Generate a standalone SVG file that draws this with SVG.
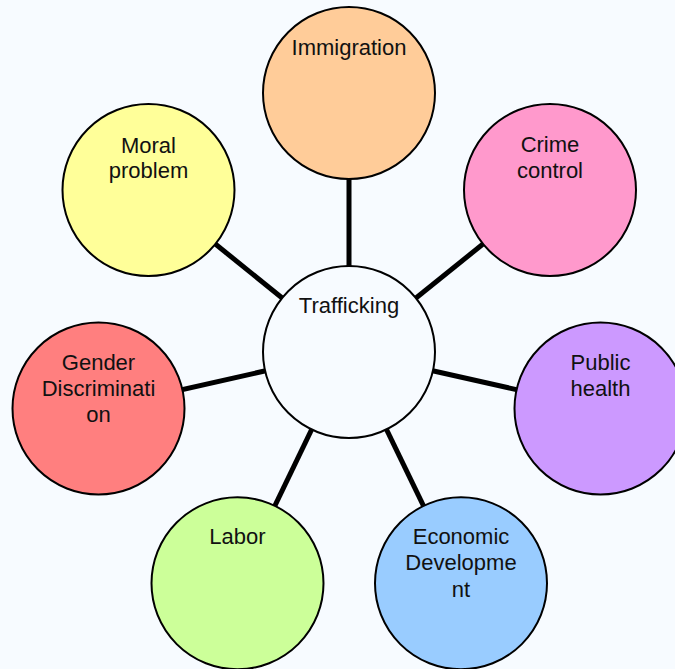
<svg xmlns="http://www.w3.org/2000/svg" width="675" height="669" viewBox="0 0 675 669">
  <style>
    .bubble { stroke: #000; stroke-width: 2; }
    .link { stroke: #000; stroke-width: 5; }
    .label { font-family: "Liberation Sans", Arial, sans-serif; font-size: 22px; fill: #111; text-anchor: middle; }
  </style>
  <rect width="675" height="669" fill="#f7fbff"/>

  <!-- spokes from the hub to each topic -->
  <g id="connectors">
    <line class="link" x1="349" y1="352" x2="349" y2="93"/>
    <line class="link" x1="349" y1="352" x2="550" y2="190"/>
    <line class="link" x1="349" y1="352" x2="600.5" y2="408.5"/>
    <line class="link" x1="349" y1="352" x2="461" y2="583.3"/>
    <line class="link" x1="349" y1="352" x2="237.5" y2="583.3"/>
    <line class="link" x1="349" y1="352" x2="98.5" y2="408.5"/>
    <line class="link" x1="349" y1="352" x2="148.5" y2="190"/>
  </g>

  <g id="hub">
    <circle class="bubble" cx="349" cy="352" r="86" fill="#f7fbff"/>
    <text class="label" x="349" y="312.5">Trafficking</text>
  </g>

  <g id="immigration">
    <circle class="bubble" cx="349" cy="93" r="86" fill="#ffcc99"/>
    <text class="label" x="349" y="55">Immigration</text>
  </g>

  <g id="crime-control">
    <circle class="bubble" cx="550" cy="190" r="86" fill="#ff99cc"/>
    <text class="label" x="550" y="152.3">Crime</text>
    <text class="label" x="550" y="177.5">control</text>
  </g>

  <g id="public-health">
    <circle class="bubble" cx="600.5" cy="408.5" r="86" fill="#cc99ff"/>
    <text class="label" x="600.5" y="370">Public</text>
    <text class="label" x="600.5" y="396">health</text>
  </g>

  <g id="economic-development">
    <circle class="bubble" cx="461" cy="583.3" r="86" fill="#99ccff"/>
    <text class="label" x="461" y="544">Economic</text>
    <text class="label" x="461" y="570">Developme</text>
    <text class="label" x="461" y="596.5">nt</text>
  </g>

  <g id="labor">
    <circle class="bubble" cx="237.5" cy="583.3" r="86" fill="#ccff99"/>
    <text class="label" x="237.5" y="544">Labor</text>
  </g>

  <g id="gender-discrimination">
    <circle class="bubble" cx="98.5" cy="408.5" r="86" fill="#ff7f7f"/>
    <text class="label" x="98.5" y="369.5">Gender</text>
    <text class="label" x="98.5" y="395.5">Discriminati</text>
    <text class="label" x="98.5" y="421.5">on</text>
  </g>

  <g id="moral-problem">
    <circle class="bubble" cx="148.5" cy="190" r="86" fill="#ffff99"/>
    <text class="label" x="148.5" y="152.5">Moral</text>
    <text class="label" x="148.5" y="177.5">problem</text>
  </g>
</svg>
